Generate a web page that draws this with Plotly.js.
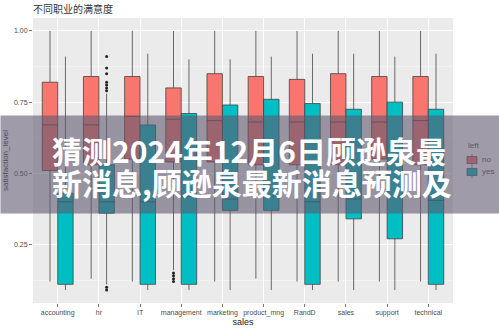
<!DOCTYPE html>
<html><head><meta charset="utf-8">
<script src="https://cdn.plot.ly/plotly-3.0.1.min.js"></script>
<style>html,body{margin:0;padding:0;background:#fff}#chart{width:499px;height:328px}</style>
</head><body><div id="chart"></div>
<script>
const categories = ['accounting','hr','IT','management','marketing','product_mng','RandD','sales','support','technical'];

// left = no
const noLower  = [0.12, 0.13, 0.12, 0.16, 0.12, 0.13, 0.12, 0.12, 0.12, 0.12];
const noQ1     = [0.51, 0.53, 0.55, 0.54, 0.54, 0.53, 0.53, 0.53, 0.55, 0.53];
const noMedian = [0.67, 0.67, 0.70, 0.69, 0.685, 0.68, 0.68, 0.68, 0.68, 0.685];
const noQ3     = [0.82, 0.84, 0.84, 0.80, 0.85, 0.84, 0.83, 0.85, 0.84, 0.84];
const noUpper  = [1.00, 1.00, 1.00, 1.00, 1.00, 1.00, 1.00, 1.00, 1.00, 1.00];

// left = yes
const yesLower  = [0.09, 0.11, 0.09, 0.09, 0.09, 0.09, 0.09, 0.09, 0.09, 0.09];
const yesQ1     = [0.11, 0.36, 0.11, 0.11, 0.37, 0.37, 0.11, 0.34, 0.27, 0.11];
const yesMedian = [0.40, 0.40, 0.40, 0.42, 0.41, 0.42, 0.40, 0.41, 0.42, 0.405];
const yesQ3     = [0.43, 0.53, 0.67, 0.71, 0.74, 0.76, 0.745, 0.725, 0.75, 0.725];
const yesUpper  = [0.91, 0.78, 0.92, 0.90, 0.90, 0.91, 0.92, 0.92, 0.91, 0.92];

// outliers
const noOutlierCat = ['management','management','management','management'];
const noOutlierVal = [0.15, 0.14, 0.13, 0.12];
const yesOutlierCat = ['hr','hr','hr','hr','hr','hr','hr','hr','hr'];
const yesOutlierVal = [0.91, 0.87, 0.85, 0.82, 0.81, 0.80, 0.79, 0.10, 0.09];

const seriesNames = ['no','yes'];
const titleText = '不同职业的满意度';
const xTitle = 'sales';
const yTitle = 'satisfaction_level';
const legendTitle = 'left';
const bannerLine1 = '猜测2024年12月6日顾逊泉最';
const bannerLine2 = '新消息,顾逊泉最新消息预测及';
const yTickVals = [0.25, 0.50, 0.75, 1.00];

const RED = '#F8766D', CYAN = '#00BFC4';
const colors = [RED, CYAN];
const dodge = 0.1875, bw = 0.375;
const pos = c => categories.indexOf(c) + 1;
const idx = categories.map((c,i)=>i+1);
const LINE = 'rgba(60,60,60,0.75)';

function boxTrace(name, color, off, lo, q1, med, q3, up){
  return {type:'box', name:name, x: idx.map(v=>v+off), q1:q1, median:med, q3:q3,
    lowerfence:lo, upperfence:up, width:bw, boxpoints:false, whiskerwidth:0,
    fillcolor:color, line:{color:LINE, width:1}, hoverinfo:'skip', showlegend:false};
}
function outTrace(off, cats, vals){
  return {type:'scatter', mode:'markers', x: cats.map(c=>pos(c)+off), y: vals,
    marker:{color:'#222', size:3}, showlegend:false, hoverinfo:'skip'};
}

const data = [
  boxTrace(seriesNames[0], RED, -dodge, noLower, noQ1, noMedian, noQ3, noUpper),
  boxTrace(seriesNames[1], CYAN, dodge, yesLower, yesQ1, yesMedian, yesQ3, yesUpper),
  outTrace(-dodge, noOutlierCat, noOutlierVal),
  outTrace(dodge, yesOutlierCat, yesOutlierVal)
];

// legend (drawn by hand so the banner can lie over it)
const legFont = {family:'Liberation Sans, Arial, sans-serif', size:8, color:'#555'};
const legendShapes = [], legendAnns = [];
legendAnns.push({xref:'paper', yref:'paper', x:1.031, y:0.551, xanchor:'left', yanchor:'middle',
  showarrow:false, text:legendTitle, font:legFont});
seriesNames.forEach((nm, i) => {
  const yc = 0.5018 - i*0.0421;
  legendShapes.push({type:'line', xref:'paper', yref:'paper', x0:1.0452, x1:1.0452, y0:yc-0.021, y1:yc+0.021,
    line:{color:LINE, width:0.8}, layer:'above'});
  legendShapes.push({type:'rect', xref:'paper', yref:'paper', x0:1.0333, x1:1.0571, y0:yc-0.0125, y1:yc+0.0125,
    fillcolor:colors[i], line:{color:LINE, width:0.8}, layer:'above'});
  legendAnns.push({xref:'paper', yref:'paper', x:1.064, y:yc, xanchor:'left', yanchor:'middle',
    showarrow:false, text:nm, font:legFont});
});

const tickFont = {family:'Liberation Sans, Arial, sans-serif', size:7, color:'#4d4d4d'};
const layout = {
  width:499, height:328,
  margin:{l:33, r:46, t:18, b:25, pad:0},
  paper_bgcolor:'#ffffff', plot_bgcolor:'#EBEBEB',
  boxmode:'overlay', showlegend:false,
  title:{text:titleText, x:0.066, xanchor:'left', y:0.972, yanchor:'middle',
    font:{family:'Noto Sans CJK SC, sans-serif', size:10, color:'#333'}},
  xaxis:{range:[0.4, 10.6], tickmode:'array', tickvals:idx, ticktext:categories, tickangle:0,
    showgrid:true, gridcolor:'#ffffff', gridwidth:1, zeroline:false, showline:false,
    ticks:'outside', ticklen:3, tickcolor:'#555', tickwidth:0.8, tickfont:tickFont,
    title:{text:xTitle, font:{family:'Liberation Sans, Arial, sans-serif', size:9, color:'#222'}, standoff:1}},
  yaxis:{range:[0.0445, 1.0455], tickmode:'array', tickvals:yTickVals,
    ticktext:yTickVals.map(v=>v.toFixed(2)),
    showgrid:true, gridcolor:'#ffffff', gridwidth:1, zeroline:false, showline:false,
    ticks:'outside', ticklen:3, tickcolor:'#555', tickwidth:0.8, tickfont:tickFont,
    minor:{tickmode:'array', tickvals:[0.125,0.375,0.625,0.875], showgrid:true, gridcolor:'#F6F6F6', gridwidth:0.6, ticks:''},
    title:{text:yTitle, font:{family:'Liberation Sans, Arial, sans-serif', size:8, color:'#333'}, standoff:4}},
  shapes: legendShapes,
  annotations: legendAnns.concat([
    {xref:'paper', yref:'paper', x:-0.0786, y:0.6596, xanchor:'left', yanchor:'top', showarrow:false,
     text:' ', width:499, height:97, borderpad:0, bgcolor:'rgba(95,88,112,0.6)'},
    {xref:'paper', yref:'paper', x:0.0405, y:0.537, xanchor:'left', yanchor:'middle', showarrow:false,
     text:'<b>'+bannerLine1+'</b>', font:{family:'Noto Sans CJK SC, sans-serif', size:30, color:'#ffffff'}},
    {xref:'paper', yref:'paper', x:0.0405, y:0.4246, xanchor:'left', yanchor:'middle', showarrow:false,
     text:'<b>'+bannerLine2+'</b>', font:{family:'Noto Sans CJK SC, sans-serif', size:30, color:'#ffffff'}}
  ])
};
Plotly.newPlot('chart', data, layout, {displayModeBar:false, staticPlot:true});
</script></body></html>
